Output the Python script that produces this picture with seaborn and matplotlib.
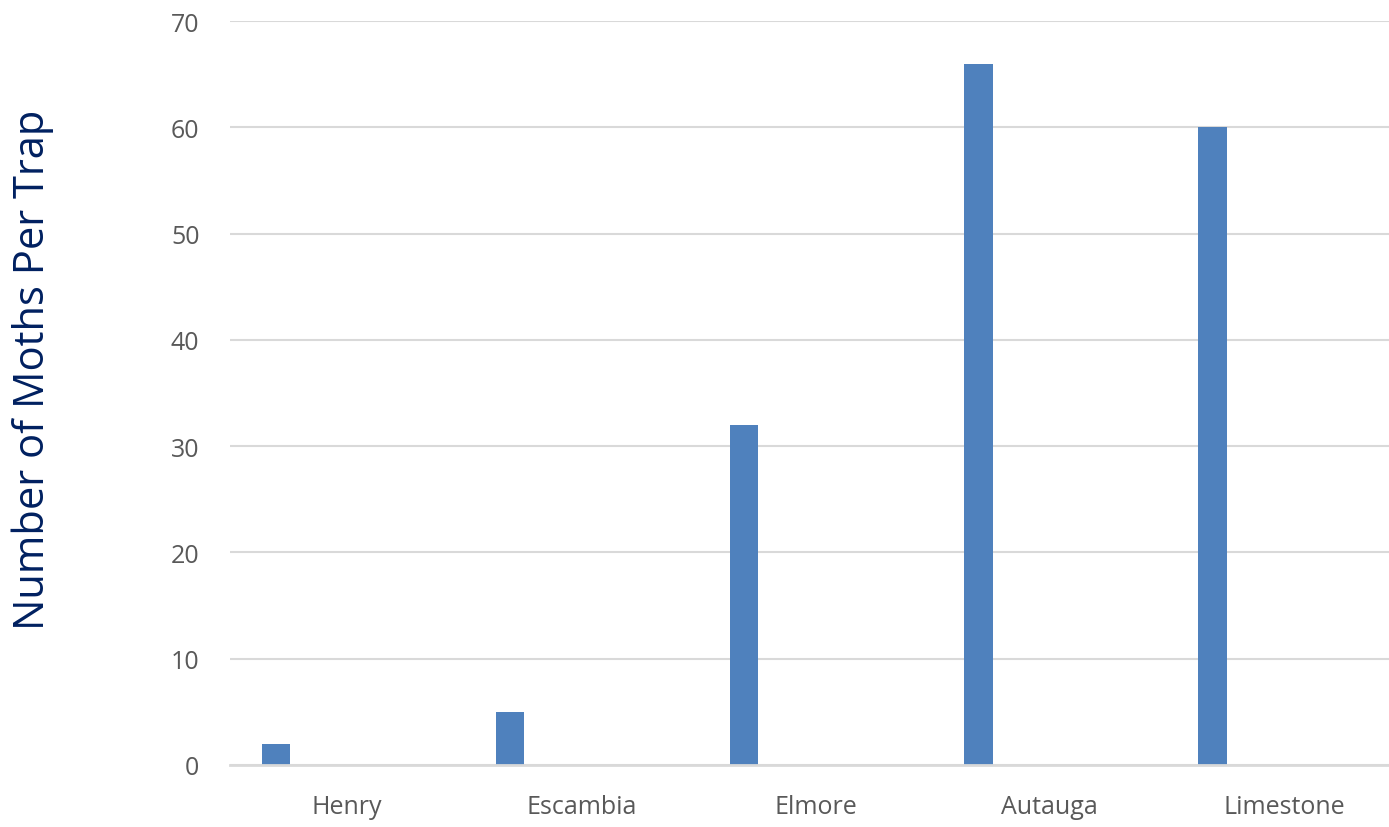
import pandas as pd
import seaborn as sns
from matplotlib import pyplot as plt

counties = ["Henry", "Escambia", "Elmore", "Autauga", "Limestone"]
moths = [2, 5, 32, 66, 60]
# the source chart is a clustered column chart with empty extra series
series = ["Series1", "Series2", "Series3", "Series4", "Series5", "Series6"]
yticks = [0, 10, 20, 30, 40, 50, 60, 70]

rows = []
for s in series:
    for c, v in zip(counties, moths):
        rows.append({"county": c, "series": s, "moths": v if s == "Series1" else 0})
data = pd.DataFrame(rows)

sns.set_style("white")
plt.rcParams['font.family'] = ['Open Sans', 'DejaVu Sans']

fig = plt.figure(figsize=(13.89, 8.28), dpi=100)
# plot area runs slightly past the right edge of the image, as in the source
ax = fig.add_axes([0.1656, 0.0749, 0.843, 0.8985])

palette = ["#4f81bd"] + ["#ffffff"] * 5
sns.barplot(data=data, x="county", y="moths", hue="series", order=counties,
            hue_order=series, palette=palette, width=0.73, linewidth=0,
            saturation=1, legend=False, ax=ax)

ax.set_ylim(0, 70)
ax.set_xlim(-0.5, 4.5)
ax.set_yticks(yticks)
ax.grid(axis="y", color="#d9d9d9", linewidth=1.5)
ax.set_axisbelow(True)
for side in ["top", "right", "left"]:
    ax.spines[side].set_visible(False)
ax.spines["bottom"].set_color("#d9d9d9")
ax.spines["bottom"].set_linewidth(2)
ax.tick_params(axis="y", length=0, pad=22, labelsize=18, labelcolor="#595959")
ax.tick_params(axis="x", length=0, pad=21, labelsize=18, labelcolor="#595959")
ax.set_xlabel("")
ax.set_ylabel("Number of Moths Per Trap", fontsize=30, color="#002060")
ax.yaxis.set_label_coords(-0.150, 0.532)

fig.savefig("out.png", dpi=100)
